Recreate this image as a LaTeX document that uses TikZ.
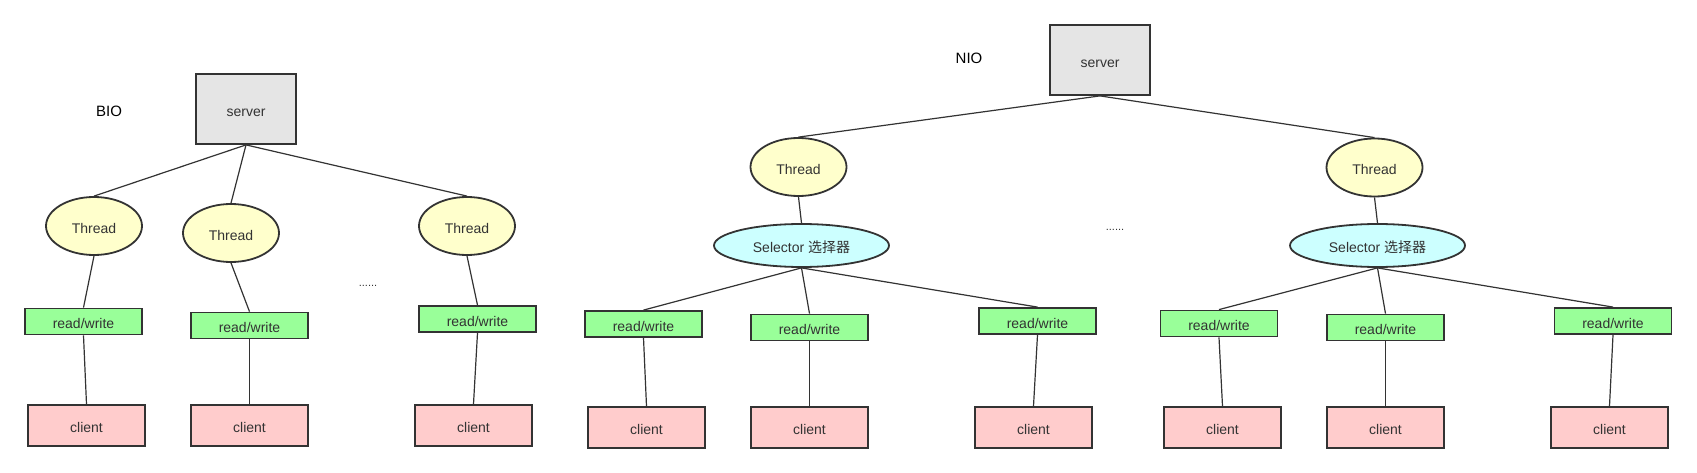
\documentclass[tikz,border=0pt]{standalone}
\usepackage{fontspec}
\setmainfont{Liberation Sans}
\newfontfamily\cjk{Noto Sans CJK SC}
\usetikzlibrary{shapes.geometric,positioning}
\definecolor{srvgray}{HTML}{E5E5E5}
\definecolor{thryellow}{HTML}{FFFFCC}
\definecolor{selcyan}{HTML}{CCFFFF}
\definecolor{rwgreen}{HTML}{99FF99}
\definecolor{clipink}{HTML}{FFCCCC}
\definecolor{edgegray}{HTML}{333333}
\tikzstyle{box} = [draw=edgegray, line width=1.8pt, inner sep=0pt, text=edgegray, text height=14.5pt, text depth=0pt, font=\fontsize{14}{16}\selectfont]
\tikzstyle{srv} = [box, rectangle, minimum width=100pt, minimum height=70pt, fill=srvgray]
\tikzstyle{thr} = [box, ellipse, minimum width=96pt, minimum height=58pt, fill=thryellow]
\tikzstyle{sel} = [box, ellipse, minimum width=175pt, minimum height=43pt, fill=selcyan]
\tikzstyle{rw} = [box, rectangle, minimum width=117pt, minimum height=26pt, fill=rwgreen]
\tikzstyle{cli} = [box, rectangle, minimum width=117pt, minimum height=41pt, fill=clipink]
\tikzstyle{link} = [line width=1.2pt, draw=edgegray]
\tikzstyle{lbl} = [text=black, font=\fontsize{15}{18}\selectfont]
\tikzstyle{more} = [text=edgegray, font=\fontsize{11}{12}\selectfont]

\begin{document}
\begin{tikzpicture}[x=1pt,y=-1pt]
\useasboundingbox[fill=white] (0,0) rectangle (1697,473);
% BIO
\node (bio) at (109,111) [lbl] {BIO};
\node (bs) at (246,109) [srv] {server};
\node (bt1) at (94,226) [thr] {Thread};
\node (bt2) at (231,233) [thr] {Thread};
\node (bt3) at (467,226) [thr] {Thread};
\node (bdots) at (368,286) [more] {......};
\node (brw1) at (83.5,321.5) [rw] {read/write};
\node (brw2) at (249.5,325.5) [rw] {read/write};
\node (brw3) at (477.5,319) [rw] {read/write};
\node (bc1) at (86.5,425.5) [cli] {client};
\node (bc2) at (249.5,425.5) [cli] {client};
\node (bc3) at (473.5,425.5) [cli] {client};
\draw [link] (bs.south)--(bt1.north);
\draw [link] (bs.south)--(bt2.north);
\draw [link] (bs.south)--(bt3.north);
\draw [link] (bt1.south)--(brw1.north);
\draw [link] (bt2.south)--(brw2.north);
\draw [link] (bt3.south)--(brw3.north);
\draw [link] (brw1.south)--(bc1.north);
\draw [link] (brw2.south)--(bc2.north);
\draw [link] (brw3.south)--(bc3.north);
% NIO
\node (nio) at (969,58) [lbl] {NIO};
\node (ns) at (1100,60) [srv] {server};
\node (nt1) at (798.5,167) [thr] {Thread};
\node (nt2) at (1374.5,167.5) [thr] {Thread};
\node (ndots) at (1115,230) [more] {......};
\node (nsel1) at (801.5,245.5) [sel] {Selector {\cjk 选择器}};
\node (nsel2) at (1377.5,245.5) [sel] {Selector {\cjk 选择器}};
\node (nrw1) at (643.5,324) [rw] {read/write};
\node (nrw2) at (809.5,327.5) [rw] {read/write};
\node (nrw3) at (1037.5,321) [rw] {read/write};
\node (nrw4) at (1219,323.5) [rw] {read/write};
\node (nrw5) at (1385.5,327.5) [rw] {read/write};
\node (nrw6) at (1613,321) [rw] {read/write};
\node (nc1) at (646.5,427.5) [cli] {client};
\node (nc2) at (809.5,427.5) [cli] {client};
\node (nc3) at (1033.5,427.5) [cli] {client};
\node (nc4) at (1222.5,427.5) [cli] {client};
\node (nc5) at (1385.5,427.5) [cli] {client};
\node (nc6) at (1609.5,427.5) [cli] {client};
\draw [link] (ns.south)--(nt1.north);
\draw [link] (ns.south)--(nt2.north);
\draw [link] (nt1.south)--(nsel1.north);
\draw [link] (nt2.south)--(nsel2.north);
\draw [link] (nsel1.south)--(nrw1.north);
\draw [link] (nsel1.south)--(nrw2.north);
\draw [link] (nsel1.south)--(nrw3.north);
\draw [link] (nsel2.south)--(nrw4.north);
\draw [link] (nsel2.south)--(nrw5.north);
\draw [link] (nsel2.south)--(nrw6.north);
\draw [link] (nrw1.south)--(nc1.north);
\draw [link] (nrw2.south)--(nc2.north);
\draw [link] (nrw3.south)--(nc3.north);
\draw [link] (nrw4.south)--(nc4.north);
\draw [link] (nrw5.south)--(nc5.north);
\draw [link] (nrw6.south)--(nc6.north);
\end{tikzpicture}
\end{document}
